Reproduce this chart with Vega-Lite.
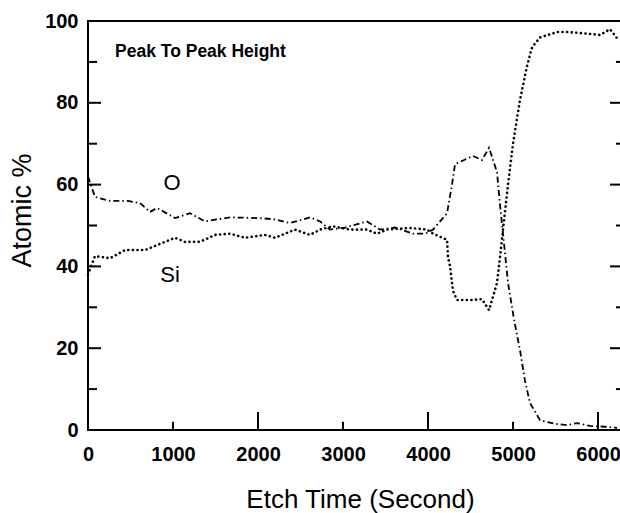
{
  "$schema": "https://vega.github.io/schema/vega-lite/v6.json",
  "autosize": "none",
  "width": 534,
  "height": 409,
  "padding": {"left": 88, "top": 21, "right": 0, "bottom": 83},
  "config": {
    "font": "Liberation Sans",
    "view": {"stroke": "black", "strokeWidth": 2},
    "axis": {"grid": false, "domain": false, "ticks": false, "labelColor": "black", "titleColor": "black"}
  },
  "datasets": {
    "profile": [
      {"series": "O", "t": 0, "v": 62},
      {"series": "O", "t": 82, "v": 57},
      {"series": "O", "t": 259, "v": 56},
      {"series": "O", "t": 470, "v": 56},
      {"series": "O", "t": 612, "v": 55.5},
      {"series": "O", "t": 729, "v": 53.3},
      {"series": "O", "t": 812, "v": 54.3},
      {"series": "O", "t": 1024, "v": 51.8},
      {"series": "O", "t": 1200, "v": 53},
      {"series": "O", "t": 1376, "v": 51},
      {"series": "O", "t": 1671, "v": 52},
      {"series": "O", "t": 2024, "v": 51.8},
      {"series": "O", "t": 2200, "v": 51.5},
      {"series": "O", "t": 2376, "v": 50.6},
      {"series": "O", "t": 2612, "v": 52},
      {"series": "O", "t": 2730, "v": 51},
      {"series": "O", "t": 2847, "v": 49},
      {"series": "O", "t": 3024, "v": 49.5},
      {"series": "O", "t": 3282, "v": 51},
      {"series": "O", "t": 3435, "v": 49},
      {"series": "O", "t": 3612, "v": 49.5},
      {"series": "O", "t": 3824, "v": 48},
      {"series": "O", "t": 3965, "v": 48},
      {"series": "O", "t": 4059, "v": 49},
      {"series": "O", "t": 4224, "v": 53},
      {"series": "O", "t": 4282, "v": 60},
      {"series": "O", "t": 4318, "v": 65},
      {"series": "O", "t": 4529, "v": 67},
      {"series": "O", "t": 4635, "v": 66},
      {"series": "O", "t": 4718, "v": 69},
      {"series": "O", "t": 4812, "v": 63},
      {"series": "O", "t": 4847, "v": 55},
      {"series": "O", "t": 4882, "v": 48},
      {"series": "O", "t": 4941, "v": 36},
      {"series": "O", "t": 5012, "v": 27},
      {"series": "O", "t": 5082, "v": 19.5},
      {"series": "O", "t": 5141, "v": 12},
      {"series": "O", "t": 5200, "v": 6.6},
      {"series": "O", "t": 5318, "v": 2.4},
      {"series": "O", "t": 5494, "v": 1.5},
      {"series": "O", "t": 5635, "v": 1.2},
      {"series": "O", "t": 5753, "v": 1.7},
      {"series": "O", "t": 5906, "v": 1},
      {"series": "O", "t": 6082, "v": 0.8},
      {"series": "O", "t": 6224, "v": 0.5},
      {"series": "Si", "t": 0, "v": 38},
      {"series": "Si", "t": 35, "v": 40},
      {"series": "Si", "t": 82, "v": 42.5},
      {"series": "Si", "t": 259, "v": 42},
      {"series": "Si", "t": 435, "v": 44},
      {"series": "Si", "t": 671, "v": 44},
      {"series": "Si", "t": 788, "v": 45},
      {"series": "Si", "t": 1024, "v": 47},
      {"series": "Si", "t": 1141, "v": 46},
      {"series": "Si", "t": 1318, "v": 46},
      {"series": "Si", "t": 1494, "v": 47.7},
      {"series": "Si", "t": 1671, "v": 48},
      {"series": "Si", "t": 1847, "v": 47},
      {"series": "Si", "t": 2082, "v": 47.7},
      {"series": "Si", "t": 2200, "v": 47},
      {"series": "Si", "t": 2435, "v": 49},
      {"series": "Si", "t": 2612, "v": 47.7},
      {"series": "Si", "t": 2729, "v": 49},
      {"series": "Si", "t": 2882, "v": 49.8},
      {"series": "Si", "t": 3082, "v": 49},
      {"series": "Si", "t": 3282, "v": 49},
      {"series": "Si", "t": 3400, "v": 48},
      {"series": "Si", "t": 3518, "v": 49},
      {"series": "Si", "t": 3788, "v": 49.4},
      {"series": "Si", "t": 3988, "v": 49},
      {"series": "Si", "t": 4059, "v": 48},
      {"series": "Si", "t": 4224, "v": 46.5},
      {"series": "Si", "t": 4235, "v": 42.3},
      {"series": "Si", "t": 4259, "v": 40},
      {"series": "Si", "t": 4294, "v": 34},
      {"series": "Si", "t": 4341, "v": 31.8},
      {"series": "Si", "t": 4529, "v": 31.8},
      {"series": "Si", "t": 4635, "v": 32},
      {"series": "Si", "t": 4718, "v": 29.3},
      {"series": "Si", "t": 4812, "v": 36},
      {"series": "Si", "t": 4847, "v": 42.3},
      {"series": "Si", "t": 4882, "v": 49},
      {"series": "Si", "t": 4941, "v": 60},
      {"series": "Si", "t": 5000, "v": 70},
      {"series": "Si", "t": 5082, "v": 80.7},
      {"series": "Si", "t": 5165, "v": 89},
      {"series": "Si", "t": 5224, "v": 93.6},
      {"series": "Si", "t": 5318, "v": 96},
      {"series": "Si", "t": 5518, "v": 97.3},
      {"series": "Si", "t": 5635, "v": 97.3},
      {"series": "Si", "t": 5824, "v": 97},
      {"series": "Si", "t": 6024, "v": 96.6},
      {"series": "Si", "t": 6141, "v": 98},
      {"series": "Si", "t": 6224, "v": 95.8}
    ],
    "seriesLabels": [
      {"label": "O", "t": 988, "v": 60.5},
      {"label": "Si", "t": 965, "v": 37.8}
    ],
    "note": [
      {"label": "Peak To Peak Height", "t": 318, "v": 91.2}
    ],
    "yMajor": [{"v": 20}, {"v": 40}, {"v": 60}, {"v": 80}],
    "yMinor": [{"v": 10}, {"v": 30}, {"v": 50}, {"v": 70}, {"v": 90}],
    "xMajor": [{"t": 2000}, {"t": 4000}, {"t": 6000}],
    "xMinor": [{"t": 1000}, {"t": 3000}, {"t": 5000}]
  },
  "layer": [
    {
      "data": {"name": "profile"},
      "transform": [{"filter": "datum.series === 'O'"}],
      "mark": {"type": "line", "color": "black", "strokeWidth": 1.8, "strokeDash": [6, 3, 1.5, 3]},
      "encoding": {
        "x": {"field": "t", "type": "quantitative", "scale": {"domain": [0, 6282], "nice": false, "zero": false},
          "axis": {"orient": "bottom", "values": [0, 1000, 2000, 3000, 4000, 5000, 6000], "format": "d", "labelPadding": 14, "labelFontSize": 20, "labelFontWeight": "bold", "labelFlush": false,
            "title": "Etch Time (Second)", "titleFontSize": 26, "titleFontWeight": "normal", "titleX": 272, "titleY": 77, "titleBaseline": "alphabetic", "titleAlign": "center"}},
        "y": {"field": "v", "type": "quantitative", "scale": {"domain": [0, 100], "nice": false},
          "axis": {"orient": "left", "values": [0, 20, 40, 60, 80, 100], "labelPadding": 10, "labelFontSize": 20, "labelFontWeight": "bold", "labelFlush": false,
            "title": "Atomic %", "titleFontSize": 27, "titleFontWeight": "normal", "titleAngle": -90, "titleX": -66, "titleY": 189, "titleBaseline": "middle", "titleAlign": "center"}}
      }
    },
    {
      "data": {"name": "profile"},
      "transform": [{"filter": "datum.series === 'Si'"}],
      "mark": {"type": "line", "color": "black", "strokeWidth": 2.6, "strokeDash": [0.1, 4.5], "strokeCap": "round"},
      "encoding": {
        "x": {"field": "t", "type": "quantitative"},
        "y": {"field": "v", "type": "quantitative"}
      }
    },
    {
      "data": {"name": "seriesLabels"},
      "mark": {"type": "text", "fontSize": 22, "align": "center", "baseline": "middle", "color": "black"},
      "encoding": {
        "x": {"field": "t", "type": "quantitative"},
        "y": {"field": "v", "type": "quantitative"},
        "text": {"field": "label"}
      }
    },
    {
      "data": {"name": "note"},
      "mark": {"type": "text", "fontSize": 17.5, "fontWeight": "bold", "align": "left", "baseline": "alphabetic", "color": "black"},
      "encoding": {
        "x": {"field": "t", "type": "quantitative"},
        "y": {"field": "v", "type": "quantitative"},
        "text": {"field": "label"}
      }
    },
    {
      "data": {"name": "yMajor"},
      "mark": {"type": "rule", "color": "black", "strokeWidth": 2},
      "encoding": {"x": {"datum": 0, "type": "quantitative"}, "x2": {"datum": 153}, "y": {"field": "v", "type": "quantitative"}}
    },
    {
      "data": {"name": "yMinor"},
      "mark": {"type": "rule", "color": "black", "strokeWidth": 2},
      "encoding": {"x": {"datum": 0, "type": "quantitative"}, "x2": {"datum": 106}, "y": {"field": "v", "type": "quantitative"}}
    },
    {
      "data": {"name": "yMajor"},
      "mark": {"type": "rule", "color": "black", "strokeWidth": 2},
      "encoding": {"x": {"datum": 6141, "type": "quantitative"}, "x2": {"datum": 6282}, "y": {"field": "v", "type": "quantitative"}}
    },
    {
      "data": {"name": "yMinor"},
      "mark": {"type": "rule", "color": "black", "strokeWidth": 2},
      "encoding": {"x": {"datum": 6211, "type": "quantitative"}, "x2": {"datum": 6282}, "y": {"field": "v", "type": "quantitative"}}
    },
    {
      "data": {"name": "xMajor"},
      "mark": {"type": "rule", "color": "black", "strokeWidth": 2},
      "encoding": {"x": {"field": "t", "type": "quantitative"}, "y": {"datum": 0, "type": "quantitative"}, "y2": {"datum": 4.4}}
    },
    {
      "data": {"name": "xMinor"},
      "mark": {"type": "rule", "color": "black", "strokeWidth": 2},
      "encoding": {"x": {"field": "t", "type": "quantitative"}, "y": {"datum": 0, "type": "quantitative"}, "y2": {"datum": 2}}
    }
  ]
}
